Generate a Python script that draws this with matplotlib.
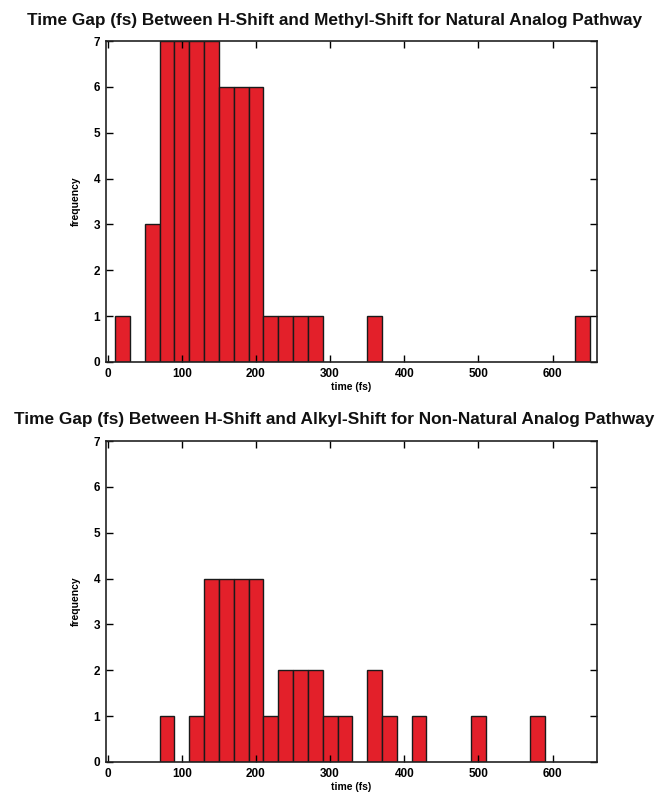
import matplotlib
matplotlib.use("Agg")
import matplotlib.pyplot as plt

# Histogram bin centres (fs) and counts, bin width 20 fs
bin_width = 20
natural_centers = [20, 60, 80, 100, 120, 140, 160, 180, 200, 220, 240, 260, 280, 360, 640]
natural_counts = [1, 3, 7, 7, 7, 7, 6, 6, 6, 1, 1, 1, 1, 1, 1]

nonnatural_centers = [80, 120, 140, 160, 180, 200, 220, 240, 260, 280, 300, 320,
                      360, 380, 420, 500, 580]
nonnatural_counts = [1, 1, 4, 4, 4, 4, 1, 2, 2, 2, 1, 1, 2, 1, 1, 1, 1]

titles = [
    "Time Gap (fs) Between H-Shift and Methyl-Shift for Natural Analog Pathway",
    "Time Gap (fs) Between H-Shift and Alkyl-Shift for Non-Natural Analog Pathway",
]
xticks = [0, 100, 200, 300, 400, 500, 600]
yticks = [0, 1, 2, 3, 4, 5, 6, 7]

W, H = 657, 792
fig = plt.figure(figsize=(W / 100, H / 100), dpi=100)
fig.patch.set_facecolor("white")

font = "Liberation Sans"
bar_color = "#e3202a"


def box(left, top, right, bottom):
    return [left / W, 1 - bottom / H, (right - left) / W, (bottom - top) / H]


panels = [
    (box(105.5, 41, 597, 362), natural_centers, natural_counts, 335, 21),
    (box(105.5, 441, 597, 762), nonnatural_centers, nonnatural_counts, 334, 419),
]

for (rect, centers, counts, title_x, title_y), title in zip(panels, titles):
    ax = fig.add_axes(rect)
    ax.bar(centers, counts, width=bin_width, color=bar_color,
           edgecolor="#1a1a1a", linewidth=1.0, align="center")
    ax.set_xlim(-3, 660)
    ax.set_ylim(0, 7)
    ax.set_xticks(xticks)
    ax.set_yticks(yticks)
    ax.tick_params(direction="in", length=5, width=1, top=True, right=True,
                   labelsize=8.5, pad=4)
    for lab in ax.get_xticklabels() + ax.get_yticklabels():
        lab.set_fontfamily(font)
        lab.set_fontweight("bold")
    for sp in ax.spines.values():
        sp.set_linewidth(1.2)
        sp.set_color("#222222")
    ax.set_xlabel("time (fs)", fontsize=7.5, fontweight="bold", family=font, labelpad=2)
    ax.set_ylabel("frequency", fontsize=7.5, fontweight="bold", family=font, labelpad=9)
    fig.text(title_x / W, 1 - title_y / H, title, ha="center", va="center",
             fontsize=12.4, family=font, fontweight="bold", color="#111111")

fig.savefig("out.png", dpi=100, facecolor="white")
